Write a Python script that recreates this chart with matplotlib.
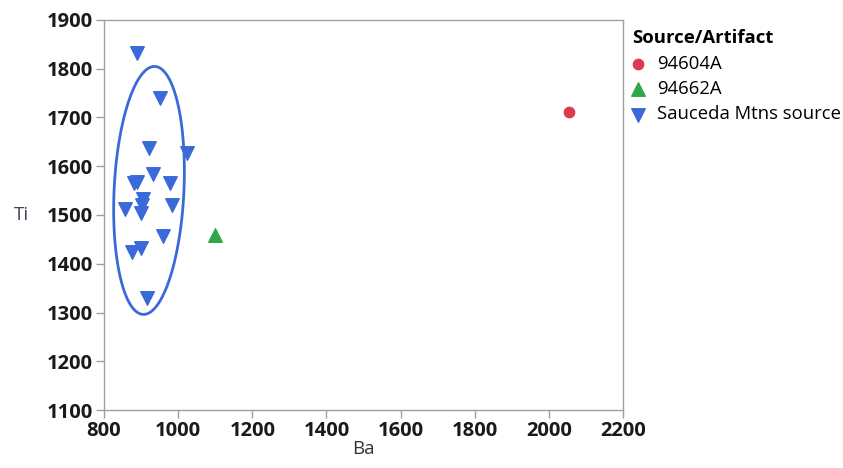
import numpy as np
import matplotlib
matplotlib.use('Agg')
import matplotlib.pyplot as plt

plt.rcParams['font.family'] = ['Open Sans', 'DejaVu Sans']

# Sauceda Mtns source samples (Ba, Ti)
sauceda_ba = [889, 951, 922, 1024, 931, 880, 890, 978, 905, 903, 856, 900, 984, 958, 876, 900, 916]
sauceda_ti = [1833, 1741, 1638, 1628, 1585, 1565, 1568, 1565, 1533, 1520, 1512, 1505, 1521, 1456, 1424, 1433, 1330]
# artifacts
art_94604a_ba = [2055]
art_94604a_ti = [1712]
art_94662a_ba = [1100]
art_94662a_ti = [1458]

xticks = [800, 1000, 1200, 1400, 1600, 1800, 2000, 2200]
yticks = [1100, 1200, 1300, 1400, 1500, 1600, 1700, 1800, 1900]

blue = '#3a6ad9'
green = '#2fa84a'
red = '#dc3a52'
gray = '#a0a0a0'

fig = plt.figure(figsize=(8.43, 4.68), dpi=100)
ax = fig.add_axes([0.1234, 0.1239, 0.6157, 0.8334])

ax.scatter(art_94604a_ba, art_94604a_ti, marker='o', s=55, color=red, label='94604A', zorder=3)
ax.scatter(art_94662a_ba, art_94662a_ti, marker='^', s=95, color=green, label='94662A', zorder=3)
ax.scatter(sauceda_ba, sauceda_ti, marker='v', s=95, color=blue, label='Sauceda Mtns source', zorder=3)

# 90% density ellipse of the source group
pts = np.array([sauceda_ba, sauceda_ti], dtype=float)
mu = pts.mean(axis=1)
cov = np.cov(pts)
vals, vecs = np.linalg.eigh(cov)
t = np.linspace(0, 2 * np.pi, 300, endpoint=False)
circ = np.array([np.cos(t), np.sin(t)])
ell = vecs @ (np.sqrt(vals * 4.605)[:, None] * circ) + mu[:, None]
ax.fill(ell[0], ell[1], fill=False, edgecolor=blue, lw=2, zorder=2)

ax.set_xlim(800, 2200)
ax.set_ylim(1100, 1900)
ax.set_xticks(xticks)
ax.set_yticks(yticks)
ax.tick_params(direction='out', length=6, width=1, color=gray, labelsize=14.5, pad=2)
for lab in ax.get_xticklabels() + ax.get_yticklabels():
    lab.set_fontweight('bold')
    lab.set_color('#1a1a1a')
for sp in ax.spines.values():
    sp.set_color(gray)
    sp.set_linewidth(1)

ax.set_xlabel('Ba', fontsize=13.5, color='#333333', labelpad=-1)
ax.set_ylabel('Ti', fontsize=13.5, color='#404060', rotation=0, labelpad=18, va='center')

leg = ax.legend(loc='upper left', bbox_to_anchor=(1.0, 1.0), frameon=False, title='Source/Artifact',
                fontsize=13.3, handletextpad=0.75, borderaxespad=0.1, labelspacing=0.4,
                handlelength=0.6, alignment='left')
leg.get_title().set_fontweight('bold')
leg.get_title().set_fontsize(13.3)

fig.savefig('out.png', dpi=100)
